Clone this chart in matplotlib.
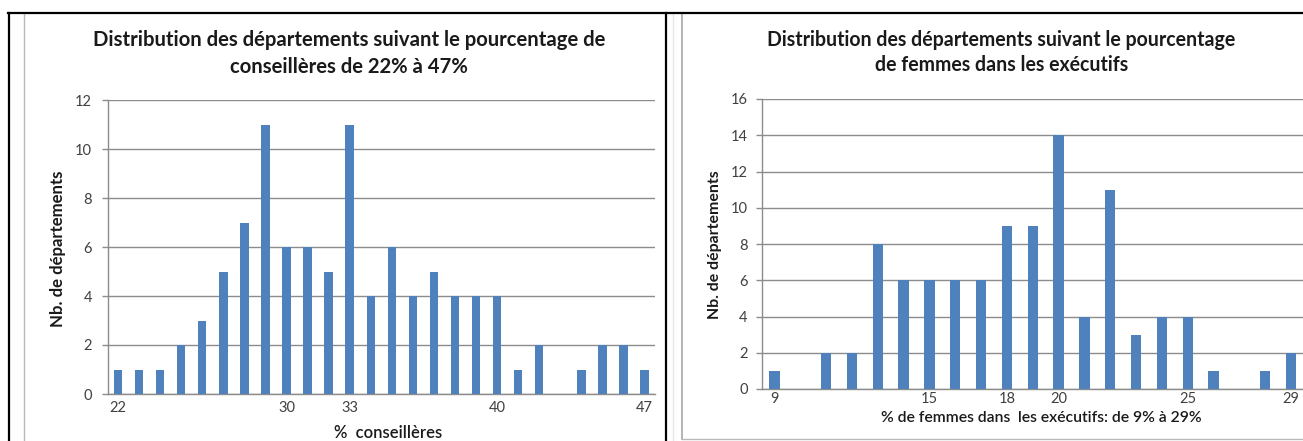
import matplotlib
matplotlib.use('Agg')
import matplotlib.pyplot as plt
from matplotlib.lines import Line2D

# ---- data ----
left_categories = list(range(22, 48))
left_counts = [1, 1, 1, 2, 3, 5, 7, 11, 6, 6, 5, 11, 4, 6, 4, 5, 4, 4, 4, 1, 2, 0, 1, 2, 2, 1]
left_tick_labels = [22, 30, 33, 40, 47]
left_title = ["Distribution des départements suivant le pourcentage de",
              "conseillères de 22% à 47%"]
left_xlabel = "%  conseillères"

right_categories = list(range(9, 30))
right_counts = [1, 0, 2, 2, 8, 6, 6, 6, 6, 9, 9, 14, 4, 11, 3, 4, 4, 1, 0, 1, 2]
right_tick_labels = [9, 15, 18, 20, 25, 29]
right_title = ["Distribution des départements suivant le pourcentage",
               "de femmes dans les exécutifs"]
right_xlabel = "% de femmes dans  les exécutifs: de 9% à 29%"

ylabel = "Nb. de départements"

# ---- style ----
plt.rcParams['font.family'] = ['Lato', 'DejaVu Sans']
BAR = '#4F81BD'
GRID = '#8c8c8c'
TXT = '#1a1a1a'
TICK = '#404040'

W, H = 1303, 441
fig = plt.figure(figsize=(W / 100, H / 100), dpi=100)


def fx(x):
    return x / W


def fy(y):
    return 1 - y / H


def make_ax(x0, x1, ytop, ybot):
    return fig.add_axes([fx(x0), fy(ybot), (x1 - x0) / W, (ybot - ytop) / H])


def style_ax(ax, cats, vals, ticks, ymax, xpad, ypad):
    ax.bar(cats, vals, width=0.4, color=BAR, zorder=3)
    ax.set_xlim(cats[0] - 0.5, cats[-1] + 0.5)
    ax.set_ylim(0, ymax)
    ax.set_yticks(range(0, ymax + 1, 2))
    ax.set_xticks(ticks)
    ax.set_xticklabels([str(t) for t in ticks])
    ax.grid(axis='y', color=GRID, linewidth=1.0, zorder=0)
    ax.set_axisbelow(True)
    for s in ['top', 'right']:
        ax.spines[s].set_visible(False)
    for s in ['left', 'bottom']:
        ax.spines[s].set_color(GRID)
        ax.spines[s].set_linewidth(1.0)
    ax.tick_params(axis='x', length=0, pad=xpad, labelsize=10.5, labelcolor=TICK)
    ax.tick_params(axis='y', length=4, width=1.0, color=GRID, pad=ypad,
                   labelsize=10.5, labelcolor=TICK)
    ax.set_facecolor('white')


axL = make_ax(107.5, 655, 100, 394)
style_ax(axL, left_categories, left_counts, left_tick_labels, 12, 5, 7)

axR = make_ax(761.5, 1304, 99, 389)
style_ax(axR, right_categories, right_counts, right_tick_labels, 16, 2, 6)

# ---- texts ----
tL1 = fig.text(fx(349), fy(40), left_title[0], ha='center', va='center',
               fontsize=12, fontweight='bold', color=TXT)
tL2 = fig.text(fx(349), fy(67), left_title[1], ha='center', va='center',
               fontsize=12, fontweight='bold', color=TXT)
tR1 = fig.text(fx(1001.5), fy(40), right_title[0], ha='center', va='center',
               fontsize=12, fontweight='bold', color=TXT)
tR2 = fig.text(fx(1001.5), fy(65), right_title[1], ha='center', va='center',
               fontsize=12, fontweight='bold', color=TXT)
yL = fig.text(fx(58), fy(248.5), ylabel, ha='center', va='center', rotation=90,
              fontsize=10, fontweight='bold', color=TXT)
yR = fig.text(fx(715), fy(245), ylabel, ha='center', va='center', rotation=90,
              fontsize=10, fontweight='bold', color=TXT)
xL = fig.text(fx(388), fy(433), left_xlabel, ha='center', va='center',
              fontsize=10, fontweight='semibold', color=TXT)
xR = fig.text(fx(1041), fy(418), right_xlabel, ha='center', va='center',
              fontsize=10, fontweight='semibold', color=TXT)

fig.canvas.draw()
r = fig.canvas.get_renderer()


def fit(t, target, horizontal=True, others=()):
    bb = t.get_window_extent(r)
    cur = bb.width if horizontal else bb.height
    fs = t.get_fontsize() * target / cur
    t.set_fontsize(fs)
    for o in others:
        o.set_fontsize(fs)


fit(tL1, 508, others=[tL2])
fit(tR1, 465, others=[tR2])
fit(yL, 157, horizontal=False)
fit(yR, 150, horizontal=False)
fit(xL, 108)
fit(xR, 323)

# ---- frame lines ----
def hline(y, x0, x1, color, lw):
    fig.add_artist(Line2D([fx(x0), fx(x1)], [fy(y), fy(y)], color=color, lw=lw))


def vline(x, y0, y1, color, lw):
    fig.add_artist(Line2D([fx(x), fx(x)], [fy(y0), fy(y1)], color=color, lw=lw))


vline(24, 14, 441, '#b8b8b8', 1.0)
vline(673, 14, 441, '#e6e6e6', 1.0)
vline(681.5, 14, 439, '#a8a8a8', 1.2)
hline(439, 681.5, 1303, '#b8b8b8', 1.0)
hline(13, 8, 1303, 'black', 1.6)
vline(8.5, 13, 441, 'black', 1.6)
vline(666, 13, 441, 'black', 1.6)

fig.savefig('out.png', dpi=100, facecolor='white')
